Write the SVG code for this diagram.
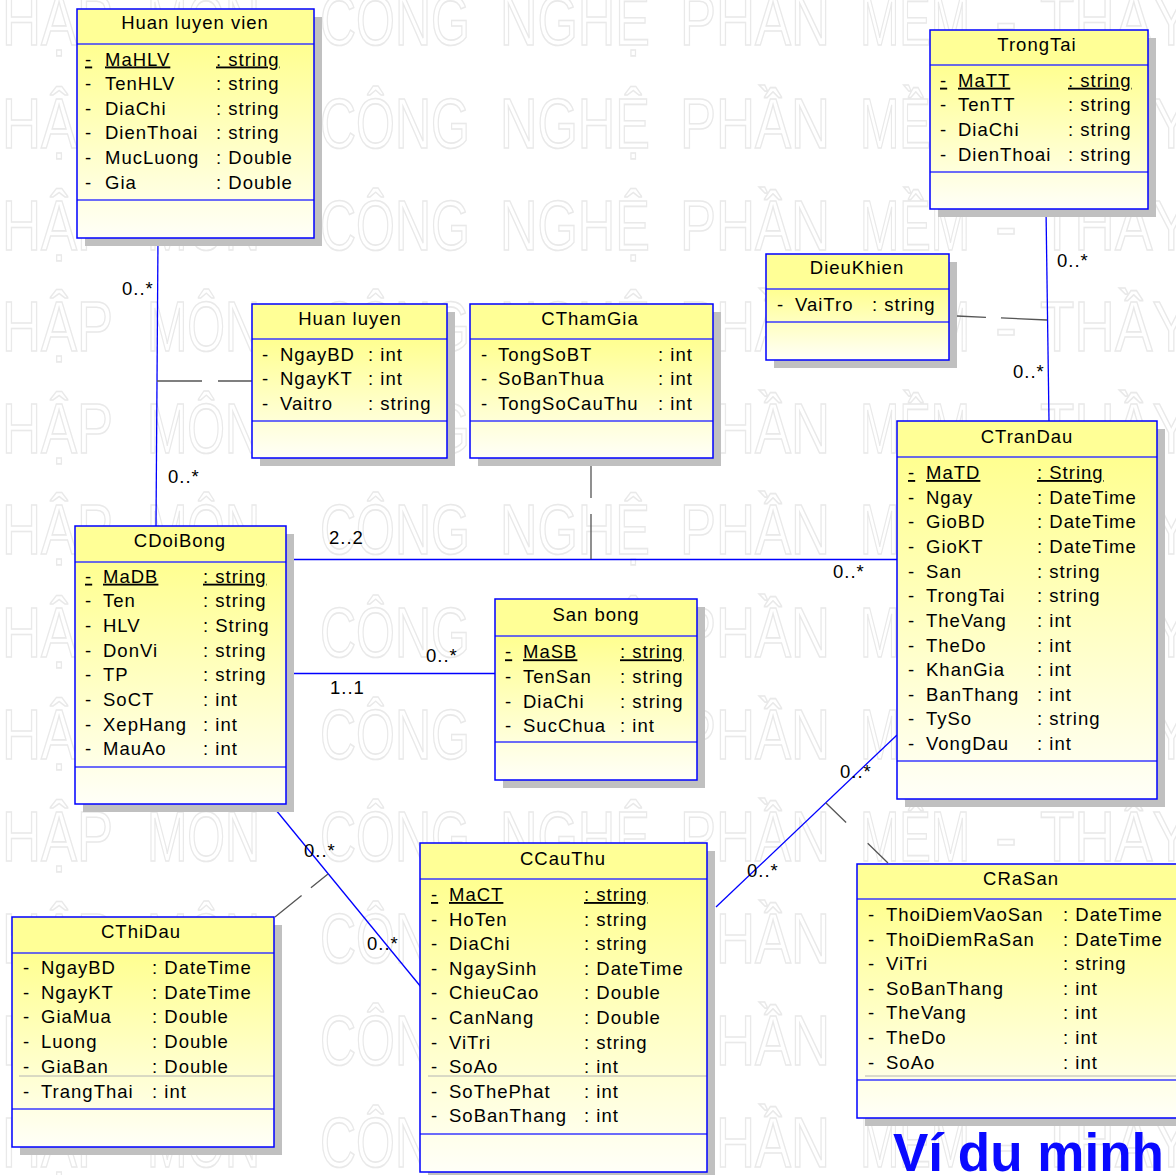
<svg xmlns="http://www.w3.org/2000/svg" xmlns:xlink="http://www.w3.org/1999/xlink" width="1176" height="1175" viewBox="0 0 1176 1175">
  <style>
    .wm { font-family: "Liberation Sans", Arial, sans-serif; font-size: 70px; fill: #ffffff; stroke: #e9e9e9; stroke-width: 1.6; }
    .sh { fill: #c0c0c0; }
    .hd { fill: #ffff96; }
    .bd { fill: url(#bodyFill); }
    .ol { fill: none; stroke: #0000ff; stroke-width: 1.5; }
    .sep { stroke: #3a3aff; stroke-width: 1.3; }
    .gsep { stroke: #b4b4b4; stroke-width: 1; }
    .t { font-family: "Liberation Sans", Arial, sans-serif; font-size: 18.5px; letter-spacing: 1px; fill: #000000; }
    .c { text-anchor: middle; }
    .key { text-decoration: underline; }
    .assoc { stroke: #0000ff; stroke-width: 1.3; fill: none; }
    .link { stroke: #555555; stroke-width: 1.3; fill: none; }
    .note { font-family: "Liberation Sans", Arial, sans-serif; font-size: 53px; font-weight: bold; fill: #0a0aff; }
  </style>
  <defs>
    <linearGradient id="bodyFill" x1="0" y1="0" x2="0" y2="1">
      <stop offset="0" stop-color="#ffff90"/>
      <stop offset="1" stop-color="#fffff8"/>
    </linearGradient>
    <g id="wmrow">
      <text class="wm" x="-37" y="0" textLength="150" lengthAdjust="spacingAndGlyphs">NHẬP</text>
      <text class="wm" x="147" y="0" textLength="113" lengthAdjust="spacingAndGlyphs">MÔN</text>
      <text class="wm" x="320" y="0" textLength="150" lengthAdjust="spacingAndGlyphs">CÔNG</text>
      <text class="wm" x="500" y="0" textLength="150" lengthAdjust="spacingAndGlyphs">NGHỆ</text>
      <text class="wm" x="680" y="0" textLength="150" lengthAdjust="spacingAndGlyphs">PHẦN</text>
      <text class="wm" x="860" y="0" textLength="110" lengthAdjust="spacingAndGlyphs">MỀM</text>
      <text class="wm" x="995" y="0" textLength="22" lengthAdjust="spacingAndGlyphs">-</text>
      <text class="wm" x="1040" y="0" textLength="150" lengthAdjust="spacingAndGlyphs">THẦY</text>
    </g>
  </defs>

  <rect x="0" y="0" width="1176" height="1175" fill="#ffffff"/>

  <!-- background watermark rows -->
  <g id="watermark">
    <use xlink:href="#wmrow" x="0" y="45"/>
    <use xlink:href="#wmrow" x="0" y="148"/>
    <use xlink:href="#wmrow" x="0" y="250"/>
    <use xlink:href="#wmrow" x="0" y="351"/>
    <use xlink:href="#wmrow" x="0" y="453"/>
    <use xlink:href="#wmrow" x="0" y="554"/>
    <use xlink:href="#wmrow" x="0" y="657"/>
    <use xlink:href="#wmrow" x="0" y="759"/>
    <use xlink:href="#wmrow" x="0" y="861"/>
    <use xlink:href="#wmrow" x="0" y="963"/>
    <use xlink:href="#wmrow" x="0" y="1065"/>
    <use xlink:href="#wmrow" x="0" y="1167"/>
  </g>

  <!-- associations and association-class links -->
  <g id="connectors">
    <line class="assoc" x1="158" y1="238" x2="156" y2="526"/>
    <line class="assoc" x1="1046" y1="209" x2="1049" y2="421"/>
    <line class="assoc" x1="286" y1="559.5" x2="897" y2="559.5"/>
    <line class="assoc" x1="286" y1="673.5" x2="495" y2="673.5"/>
    <line class="assoc" x1="271" y1="804" x2="421" y2="987"/>
    <line class="assoc" x1="716" y1="907" x2="897" y2="735"/>

    <line class="link" x1="157" y1="381" x2="252" y2="381" stroke-dasharray="45 16 200"/>
    <line class="link" x1="591" y1="458" x2="591" y2="559" stroke-dasharray="40 16 200"/>
    <line class="link" x1="957" y1="316" x2="1047" y2="320" stroke-dasharray="29 15 200"/>
    <line class="link" x1="328" y1="874" x2="275" y2="917" stroke-dasharray="22 12 200"/>
    <line class="link" x1="826" y1="803" x2="888" y2="863" stroke-dasharray="28 30 200"/>

    <text class="t" x="122" y="295">0..*</text>
    <text class="t" x="168" y="483">0..*</text>
    <text class="t" x="1057" y="267">0..*</text>
    <text class="t" x="1013" y="378">0..*</text>
    <text class="t" x="329" y="544">2..2</text>
    <text class="t" x="833" y="578">0..*</text>
    <text class="t" x="426" y="662">0..*</text>
    <text class="t" x="330" y="694">1..1</text>
    <text class="t" x="304" y="857">0..*</text>
    <text class="t" x="367" y="950">0..*</text>
    <text class="t" x="840" y="778">0..*</text>
    <text class="t" x="747" y="877">0..*</text>
  </g>

  <!-- Huan luyen vien -->
  <g id="HuanLuyenVien">
    <rect class="sh" x="85" y="17" width="237" height="229"/>
    <rect class="hd" x="77" y="9" width="237" height="35"/>
    <rect class="bd" x="77" y="44" width="237" height="194"/>
    <line class="sep" x1="77" y1="44" x2="314" y2="44"/>
    <line class="sep" x1="77" y1="200" x2="314" y2="200"/>
    <rect class="ol" x="77" y="9" width="237" height="229"/>
    <text class="t c" x="195" y="29">Huan luyen vien</text>
    <g class="t">
      <text class="key" x="85" y="65.5">-</text><text class="key" x="105" y="65.5">MaHLV</text><text class="key" x="216" y="65.5">: string</text>
      <text x="85" y="90.1">-</text><text x="105" y="90.1">TenHLV</text><text x="216" y="90.1">: string</text>
      <text x="85" y="114.7">-</text><text x="105" y="114.7">DiaChi</text><text x="216" y="114.7">: string</text>
      <text x="85" y="139.3">-</text><text x="105" y="139.3">DienThoai</text><text x="216" y="139.3">: string</text>
      <text x="85" y="163.9">-</text><text x="105" y="163.9">MucLuong</text><text x="216" y="163.9">: Double</text>
      <text x="85" y="188.5">-</text><text x="105" y="188.5">Gia</text><text x="216" y="188.5">: Double</text>
    </g>
  </g>

  <!-- TrongTai -->
  <g id="TrongTai">
    <rect class="sh" x="938" y="38" width="218" height="179"/>
    <rect class="hd" x="930" y="30" width="218" height="35"/>
    <rect class="bd" x="930" y="65" width="218" height="144"/>
    <line class="sep" x1="930" y1="65" x2="1148" y2="65"/>
    <line class="sep" x1="930" y1="172" x2="1148" y2="172"/>
    <rect class="ol" x="930" y="30" width="218" height="179"/>
    <text class="t c" x="1037" y="51">TrongTai</text>
    <g class="t">
      <text class="key" x="940" y="86.7">-</text><text class="key" x="958" y="86.7">MaTT</text><text class="key" x="1068" y="86.7">: string</text>
      <text x="940" y="111.3">-</text><text x="958" y="111.3">TenTT</text><text x="1068" y="111.3">: string</text>
      <text x="940" y="135.9">-</text><text x="958" y="135.9">DiaChi</text><text x="1068" y="135.9">: string</text>
      <text x="940" y="160.5">-</text><text x="958" y="160.5">DienThoai</text><text x="1068" y="160.5">: string</text>
    </g>
  </g>

  <!-- DieuKhien -->
  <g id="DieuKhien">
    <rect class="sh" x="774" y="262" width="183" height="106"/>
    <rect class="hd" x="766" y="254" width="183" height="35"/>
    <rect class="bd" x="766" y="289" width="183" height="71"/>
    <line class="sep" x1="766" y1="289" x2="949" y2="289"/>
    <line class="sep" x1="766" y1="322" x2="949" y2="322"/>
    <rect class="ol" x="766" y="254" width="183" height="106"/>
    <text class="t c" x="857" y="274">DieuKhien</text>
    <g class="t">
      <text x="777" y="310.7">-</text><text x="795" y="310.7">VaiTro</text><text x="872" y="310.7">: string</text>
    </g>
  </g>

  <!-- Huan luyen -->
  <g id="HuanLuyen">
    <rect class="sh" x="260" y="312" width="195" height="154"/>
    <rect class="hd" x="252" y="304" width="195" height="35"/>
    <rect class="bd" x="252" y="339" width="195" height="119"/>
    <line class="sep" x1="252" y1="339" x2="447" y2="339"/>
    <line class="sep" x1="252" y1="421" x2="447" y2="421"/>
    <rect class="ol" x="252" y="304" width="195" height="154"/>
    <text class="t c" x="350" y="324.5">Huan luyen</text>
    <g class="t">
      <text x="262" y="360.5">-</text><text x="280" y="360.5">NgayBD</text><text x="368" y="360.5">: int</text>
      <text x="262" y="385.1">-</text><text x="280" y="385.1">NgayKT</text><text x="368" y="385.1">: int</text>
      <text x="262" y="409.7">-</text><text x="280" y="409.7">Vaitro</text><text x="368" y="409.7">: string</text>
    </g>
  </g>

  <!-- CThamGia -->
  <g id="CThamGia">
    <rect class="sh" x="478" y="312" width="243" height="154"/>
    <rect class="hd" x="470" y="304" width="243" height="35"/>
    <rect class="bd" x="470" y="339" width="243" height="119"/>
    <line class="sep" x1="470" y1="339" x2="713" y2="339"/>
    <line class="sep" x1="470" y1="421" x2="713" y2="421"/>
    <rect class="ol" x="470" y="304" width="243" height="154"/>
    <text class="t c" x="590" y="324.5">CThamGia</text>
    <g class="t">
      <text x="481" y="360.5">-</text><text x="498" y="360.5">TongSoBT</text><text x="658" y="360.5">: int</text>
      <text x="481" y="385.1">-</text><text x="498" y="385.1">SoBanThua</text><text x="658" y="385.1">: int</text>
      <text x="481" y="409.7">-</text><text x="498" y="409.7">TongSoCauThu</text><text x="658" y="409.7">: int</text>
    </g>
  </g>

  <!-- CDoiBong -->
  <g id="CDoiBong">
    <rect class="sh" x="83" y="534" width="211" height="278"/>
    <rect class="hd" x="75" y="526" width="211" height="36"/>
    <rect class="bd" x="75" y="562" width="211" height="242"/>
    <line class="sep" x1="75" y1="562" x2="286" y2="562"/>
    <line class="sep" x1="75" y1="767" x2="286" y2="767"/>
    <rect class="ol" x="75" y="526" width="211" height="278"/>
    <text class="t c" x="180" y="547">CDoiBong</text>
    <g class="t">
      <text class="key" x="85" y="582.7">-</text><text class="key" x="103" y="582.7">MaDB</text><text class="key" x="203" y="582.7">: string</text>
      <text x="85" y="607.3">-</text><text x="103" y="607.3">Ten</text><text x="203" y="607.3">: string</text>
      <text x="85" y="632">-</text><text x="103" y="632">HLV</text><text x="203" y="632">: String</text>
      <text x="85" y="656.6">-</text><text x="103" y="656.6">DonVi</text><text x="203" y="656.6">: string</text>
      <text x="85" y="681.3">-</text><text x="103" y="681.3">TP</text><text x="203" y="681.3">: string</text>
      <text x="85" y="705.9">-</text><text x="103" y="705.9">SoCT</text><text x="203" y="705.9">: int</text>
      <text x="85" y="730.6">-</text><text x="103" y="730.6">XepHang</text><text x="203" y="730.6">: int</text>
      <text x="85" y="755.2">-</text><text x="103" y="755.2">MauAo</text><text x="203" y="755.2">: int</text>
    </g>
  </g>

  <!-- San bong -->
  <g id="SanBong">
    <rect class="sh" x="503" y="607" width="202" height="181"/>
    <rect class="hd" x="495" y="599" width="202" height="37"/>
    <rect class="bd" x="495" y="636" width="202" height="144"/>
    <line class="sep" x1="495" y1="636" x2="697" y2="636"/>
    <line class="sep" x1="495" y1="742" x2="697" y2="742"/>
    <rect class="ol" x="495" y="599" width="202" height="181"/>
    <text class="t c" x="596" y="621">San bong</text>
    <g class="t">
      <text class="key" x="505" y="658.3">-</text><text class="key" x="523" y="658.3">MaSB</text><text class="key" x="620" y="658.3">: string</text>
      <text x="505" y="683">-</text><text x="523" y="683">TenSan</text><text x="620" y="683">: string</text>
      <text x="505" y="707.6">-</text><text x="523" y="707.6">DiaChi</text><text x="620" y="707.6">: string</text>
      <text x="505" y="732.2">-</text><text x="523" y="732.2">SucChua</text><text x="620" y="732.2">: int</text>
    </g>
  </g>

  <!-- CTranDau -->
  <g id="CTranDau">
    <rect class="sh" x="905" y="429" width="260" height="378"/>
    <rect class="hd" x="897" y="421" width="260" height="36"/>
    <rect class="bd" x="897" y="457" width="260" height="342"/>
    <line class="sep" x1="897" y1="457" x2="1157" y2="457"/>
    <line class="sep" x1="897" y1="761" x2="1157" y2="761"/>
    <rect class="ol" x="897" y="421" width="260" height="378"/>
    <text class="t c" x="1027" y="442.5">CTranDau</text>
    <g class="t">
      <text class="key" x="908" y="479">-</text><text class="key" x="926" y="479">MaTD</text><text class="key" x="1037" y="479">: String</text>
      <text x="908" y="503.6">-</text><text x="926" y="503.6">Ngay</text><text x="1037" y="503.6">: DateTime</text>
      <text x="908" y="528.3">-</text><text x="926" y="528.3">GioBD</text><text x="1037" y="528.3">: DateTime</text>
      <text x="908" y="552.9">-</text><text x="926" y="552.9">GioKT</text><text x="1037" y="552.9">: DateTime</text>
      <text x="908" y="577.6">-</text><text x="926" y="577.6">San</text><text x="1037" y="577.6">: string</text>
      <text x="908" y="602.2">-</text><text x="926" y="602.2">TrongTai</text><text x="1037" y="602.2">: string</text>
      <text x="908" y="626.8">-</text><text x="926" y="626.8">TheVang</text><text x="1037" y="626.8">: int</text>
      <text x="908" y="651.5">-</text><text x="926" y="651.5">TheDo</text><text x="1037" y="651.5">: int</text>
      <text x="908" y="676.1">-</text><text x="926" y="676.1">KhanGia</text><text x="1037" y="676.1">: int</text>
      <text x="908" y="700.8">-</text><text x="926" y="700.8">BanThang</text><text x="1037" y="700.8">: int</text>
      <text x="908" y="725.4">-</text><text x="926" y="725.4">TySo</text><text x="1037" y="725.4">: string</text>
      <text x="908" y="750">-</text><text x="926" y="750">VongDau</text><text x="1037" y="750">: int</text>
    </g>
  </g>

  <!-- CThiDau -->
  <g id="CThiDau">
    <rect class="sh" x="20" y="925" width="262" height="230"/>
    <rect class="hd" x="12" y="917" width="262" height="36"/>
    <rect class="bd" x="12" y="953" width="262" height="194"/>
    <line class="sep" x1="12" y1="953" x2="274" y2="953"/>
    <line class="gsep" x1="19" y1="1076" x2="274" y2="1076"/>
    <line class="sep" x1="12" y1="1109" x2="274" y2="1109"/>
    <rect class="ol" x="12" y="917" width="262" height="230"/>
    <text class="t c" x="141" y="938">CThiDau</text>
    <g class="t">
      <text x="23" y="974">-</text><text x="41" y="974">NgayBD</text><text x="152" y="974">: DateTime</text>
      <text x="23" y="998.7">-</text><text x="41" y="998.7">NgayKT</text><text x="152" y="998.7">: DateTime</text>
      <text x="23" y="1023.4">-</text><text x="41" y="1023.4">GiaMua</text><text x="152" y="1023.4">: Double</text>
      <text x="23" y="1048">-</text><text x="41" y="1048">Luong</text><text x="152" y="1048">: Double</text>
      <text x="23" y="1072.8">-</text><text x="41" y="1072.8">GiaBan</text><text x="152" y="1072.8">: Double</text>
      <text x="23" y="1097.6">-</text><text x="41" y="1097.6">TrangThai</text><text x="152" y="1097.6">: int</text>
    </g>
  </g>

  <!-- CCauThu -->
  <g id="CCauThu">
    <rect class="sh" x="428" y="851" width="287" height="329"/>
    <rect class="hd" x="420" y="843" width="287" height="36"/>
    <rect class="bd" x="420" y="879" width="287" height="293"/>
    <line class="sep" x1="420" y1="879" x2="707" y2="879"/>
    <line class="gsep" x1="428" y1="1076" x2="707" y2="1076"/>
    <line class="sep" x1="420" y1="1134" x2="707" y2="1134"/>
    <rect class="ol" x="420" y="843" width="287" height="329"/>
    <text class="t c" x="563" y="864.5">CCauThu</text>
    <g class="t">
      <text class="key" x="431" y="901">-</text><text class="key" x="449" y="901">MaCT</text><text class="key" x="584" y="901">: string</text>
      <text x="431" y="925.6">-</text><text x="449" y="925.6">HoTen</text><text x="584" y="925.6">: string</text>
      <text x="431" y="950.2">-</text><text x="449" y="950.2">DiaChi</text><text x="584" y="950.2">: string</text>
      <text x="431" y="974.8">-</text><text x="449" y="974.8">NgaySinh</text><text x="584" y="974.8">: DateTime</text>
      <text x="431" y="999.4">-</text><text x="449" y="999.4">ChieuCao</text><text x="584" y="999.4">: Double</text>
      <text x="431" y="1024">-</text><text x="449" y="1024">CanNang</text><text x="584" y="1024">: Double</text>
      <text x="431" y="1048.6">-</text><text x="449" y="1048.6">ViTri</text><text x="584" y="1048.6">: string</text>
      <text x="431" y="1073.2">-</text><text x="449" y="1073.2">SoAo</text><text x="584" y="1073.2">: int</text>
      <text x="431" y="1097.8">-</text><text x="449" y="1097.8">SoThePhat</text><text x="584" y="1097.8">: int</text>
      <text x="431" y="1122.4">-</text><text x="449" y="1122.4">SoBanThang</text><text x="584" y="1122.4">: int</text>
    </g>
  </g>

  <!-- CRaSan -->
  <g id="CRaSan">
    <rect class="sh" x="865" y="872" width="328" height="254"/>
    <rect class="hd" x="857" y="864" width="328" height="35"/>
    <rect class="bd" x="857" y="899" width="328" height="219"/>
    <line class="sep" x1="857" y1="899" x2="1185" y2="899"/>
    <line class="gsep" x1="865" y1="1076" x2="1185" y2="1076"/>
    <line class="sep" x1="857" y1="1080" x2="1185" y2="1080"/>
    <rect class="ol" x="857" y="864" width="328" height="254"/>
    <text class="t c" x="1021" y="885">CRaSan</text>
    <g class="t">
      <text x="868" y="921">-</text><text x="886" y="921">ThoiDiemVaoSan</text><text x="1063" y="921">: DateTime</text>
      <text x="868" y="945.6">-</text><text x="886" y="945.6">ThoiDiemRaSan</text><text x="1063" y="945.6">: DateTime</text>
      <text x="868" y="970.2">-</text><text x="886" y="970.2">ViTri</text><text x="1063" y="970.2">: string</text>
      <text x="868" y="994.8">-</text><text x="886" y="994.8">SoBanThang</text><text x="1063" y="994.8">: int</text>
      <text x="868" y="1019.4">-</text><text x="886" y="1019.4">TheVang</text><text x="1063" y="1019.4">: int</text>
      <text x="868" y="1044">-</text><text x="886" y="1044">TheDo</text><text x="1063" y="1044">: int</text>
      <text x="868" y="1068.6">-</text><text x="886" y="1068.6">SoAo</text><text x="1063" y="1068.6">: int</text>
    </g>
  </g>

  <text class="note" x="893" y="1171">Ví du minh</text>
</svg>
